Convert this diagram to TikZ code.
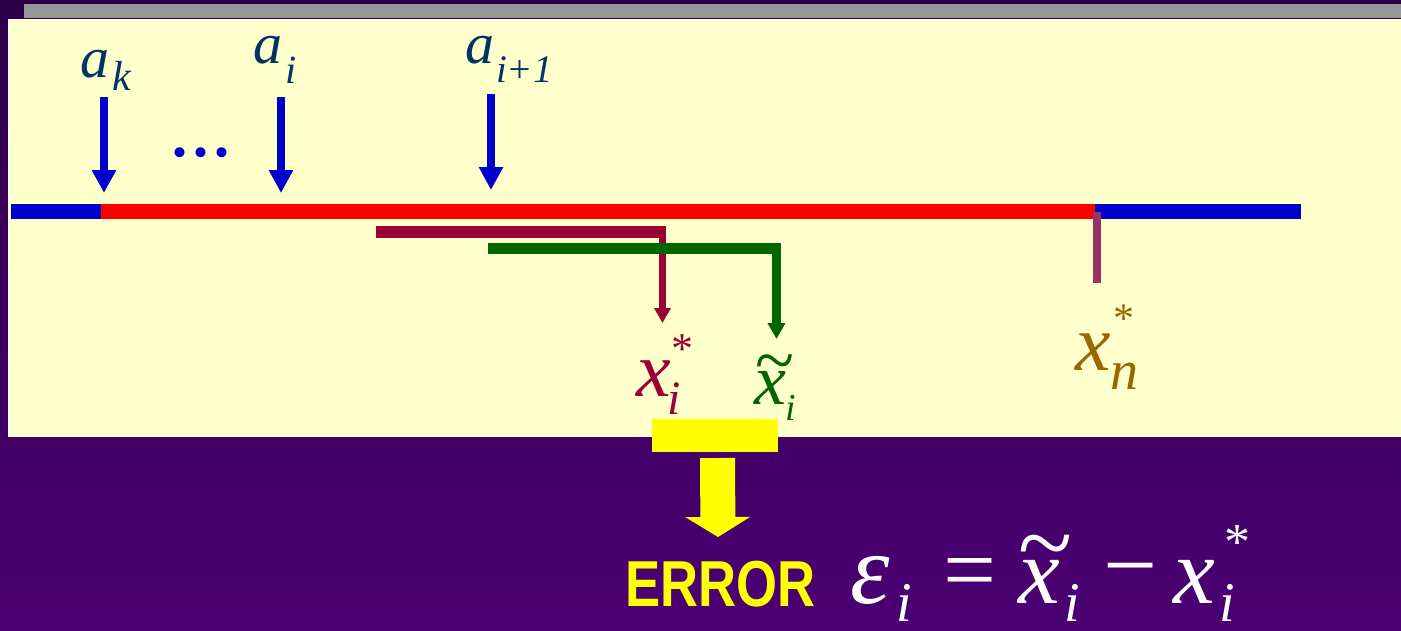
\documentclass[tikz,border=0pt]{standalone}
\usepackage{fontspec}
\setmainfont{Liberation Serif}
\newfontfamily\sansfam{Liberation Sans}
\usetikzlibrary{arrows.meta}
\definecolor{bgtop}{HTML}{2E0049}
\definecolor{bgbot}{HTML}{4B0073}
\definecolor{panel}{HTML}{FFFFCC}
\definecolor{barg}{HTML}{969696}
\definecolor{lblue}{HTML}{0000CC}
\definecolor{lred}{HTML}{FF0000}
\definecolor{maroon}{HTML}{990033}
\definecolor{dgreen}{HTML}{006600}
\definecolor{mauve}{HTML}{993366}
\definecolor{brownc}{HTML}{996600}
\definecolor{navy}{HTML}{003366}
\definecolor{yel}{HTML}{FFFF00}
\newcommand{\fsz}[1]{\fontsize{#1}{#1}\selectfont}
\begin{document}
\begin{tikzpicture}[x=1pt,y=-1pt,
  gl/.style={inner sep=0pt,outer sep=0pt,anchor=base west},
  gn/.style={inner sep=0pt,outer sep=0pt,anchor=north},
  gc/.style={inner sep=0pt,outer sep=0pt,anchor=center},
  bluearrow/.style={lblue,line width=8pt,-{Triangle[length=23pt,width=23pt]}},
  maroonarrow/.style={maroon,line width=7pt,-{Triangle[length=15pt,width=16pt]}},
  greenarrow/.style={dgreen,line width=9pt,-{Triangle[length=16pt,width=17pt]}},
  yelarrow/.style={yel,line width=35pt,-{Triangle[length=20pt,width=64pt]}}]
\useasboundingbox (0,0) rectangle (1401,630);
% background
\shade[top color=bgtop,bottom color=bgbot] (0,0) rectangle (1401,630);
\fill[barg] (24,4) rectangle (1401,18);
\fill[white] (7.5,18.5) rectangle (1401,437);
\fill[panel] (9,20) rectangle (1401,437);
% main line
\coordinate (bl0) at (11,211.5);
\coordinate (bl1) at (1301,211.5);
\coordinate (rd0) at (101,211.5);
\coordinate (rd1) at (1095,211.5);
\draw[lblue,line width=15pt] (bl0) -- (bl1);
\draw[lred,line width=15pt] (rd0) -- (rd1);
% mauve tick
\coordinate (mv0) at (1097,212);
\coordinate (mv1) at (1097,283);
\draw[mauve,line width=8pt] (mv0) -- (mv1);
% blue arrows
\coordinate (ak0) at (104,97);  \coordinate (ak1) at (104,193);
\coordinate (ai0) at (281,97);  \coordinate (ai1) at (281,193);
\coordinate (aj0) at (491,94);  \coordinate (aj1) at (491,190);
\draw[bluearrow] (ak0) -- (ak1);
\draw[bluearrow] (ai0) -- (ai1);
\draw[bluearrow] (aj0) -- (aj1);
% labels a
\node[gl,text=navy,font=\itshape\fsz{58}] (aka) at (80,77) {a};
\node[gl,text=navy,font=\itshape\fsz{42}] (akk) at (112,90) {k};
\node[gl,text=navy,font=\itshape\fsz{58}] (aia) at (253,63) {a};
\node[gl,text=navy,font=\itshape\fsz{40}] (aii) at (285,83) {i};
\node[gl,text=navy,font=\itshape\fsz{58}] (aja) at (465,63) {a};
\node[gl,text=navy,font=\itshape\fsz{39}] (aji) at (496,82) {i+1};
\node[inner sep=0pt,anchor=base,text=lblue,font=\fsz{84}] (dots) at (200.5,156.5) {...};
% maroon connector
\coordinate (mh0) at (376,232); \coordinate (mh1) at (666,232);
\draw[maroon,line width=12pt] (mh0) -- (mh1);
\coordinate (ma0) at (662.5,226); \coordinate (ma1) at (662.5,323);
\draw[maroonarrow] (ma0) -- (ma1);
% green connector
\coordinate (gh0) at (488,248); \coordinate (gh1) at (781,248);
\draw[dgreen,line width=11pt] (gh0) -- (gh1);
\coordinate (ga0) at (776.5,243); \coordinate (ga1) at (776.5,339);
\draw[greenarrow] (ga0) -- (ga1);
% x_i^*
\node[gl,text=maroon,font=\itshape\fsz{78}] (xsx) at (636,396) {x};
\node[gl,text=maroon,font=\itshape\fsz{48}] (xsi) at (667,414) {i};
\node[gn,text=maroon,font=\fsz{44}] (xss) at (682.5,335) {*};
% tilde x_i
\node[gl,text=dgreen,font=\itshape\fsz{72}] (xtx) at (754,404) {x};
\node[gl,text=dgreen,font=\itshape\fsz{38}] (xti) at (785,420) {i};
\node[gn,text=dgreen,font=\fsz{72}] (xtt) at (774.5,355) {\textasciitilde};
% x_n^*
\node[gl,text=brownc,font=\itshape\fsz{80}] (xnx) at (1075,370) {x};
\node[gl,text=brownc,font=\itshape\fsz{56}] (xnn) at (1110,389) {n};
\node[gn,text=brownc,font=\fsz{42}] (xns) at (1124,305) {*};
% yellow box and arrow
\node[fill=yel,inner sep=0pt,minimum width=126pt,minimum height=33pt,anchor=north west] (ybox) at (652,419) {};
\coordinate (ya0) at (717.5,458); \coordinate (ya1) at (718,537);
\draw[yelarrow] (ya0) -- (ya1);
% ERROR
\node[gl,text=yel,font=\sansfam\bfseries\fsz{65}] (err) at (625,606) {\scalebox{0.81}[1]{ERROR}};
% formula
\node[gl,text=white,font=\itshape\fsz{100}] (eps) at (850,603) {ε};
\node[gl,text=white,font=\itshape\fsz{56}] (epsi) at (896,621) {i};
\node[gc,text=white,font=\fsz{94}] (eq) at (970,580) {=};
\node[gl,text=white,font=\itshape\fsz{94}] (fx1) at (1018,603) {x};
\node[gn,text=white,font=\fsz{100}] (ft) at (1046,535) {\textasciitilde};
\node[gl,text=white,font=\itshape\fsz{56}] (fi1) at (1064,621) {i};
\node[gc,text=white,font=\fsz{96}] (mn) at (1131,580) {−};
\node[gl,text=white,font=\itshape\fsz{94}] (fx2) at (1173,603) {x};
\node[gl,text=white,font=\itshape\fsz{56}] (fi2) at (1219,621) {i};
\node[gn,text=white,font=\fsz{52}] (fs) at (1237,525) {*};
\end{tikzpicture}
\end{document}
